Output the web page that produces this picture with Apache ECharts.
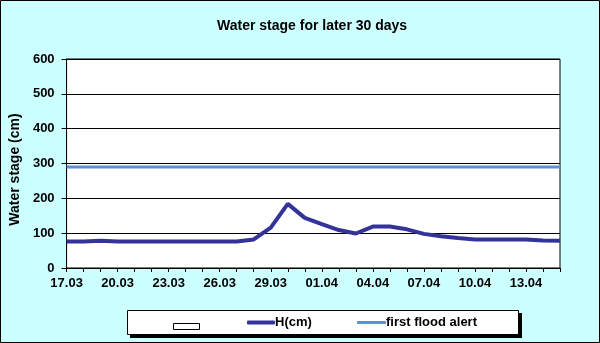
<!DOCTYPE html>
<html>
<head>
<meta charset="utf-8">
<script src="https://cdn.jsdelivr.net/npm/echarts@6/dist/echarts.min.js"></script>
<style>
html,body{margin:0;padding:0;background:#ccffff;}
#c{width:600px;height:343px;}
</style>
</head>
<body>
<div id="c"></div>
<script>
var titleText = 'Water stage for later 30 days';
var yAxisName = 'Water stage (cm)';
var dates = ['17.03','18.03','19.03','20.03','21.03','22.03','23.03','24.03','25.03','26.03',
             '27.03','28.03','29.03','30.03','31.03','01.04','02.04','03.04','04.04','05.04',
             '06.04','07.04','08.04','09.04','10.04','11.04','12.04','13.04','14.04','15.04'];
var hValues = [76,76,78,76,76,76,76,76,76,76,
               76,82,116,184,144,126,109,99,119,119,
               111,98,91,86,82,82,82,82,79,78];
var alertValues = [290,290,290,290,290,290,290,290,290,290,
                   290,290,290,290,290,290,290,290,290,290,
                   290,290,290,290,290,290,290,290,290,290];
var seriesNames = [' ', 'H(cm)', 'first flood alert'];

var FONT = 'Liberation Sans, Arial, sans-serif';
var chart = echarts.init(document.getElementById('c'), null, {renderer:'canvas'});
chart.setOption({
  backgroundColor: '#ccffff',
  animation: false,
  title: {
    text: titleText, left: 212, top: 14,
    textStyle: {fontFamily: FONT, fontSize: 14, fontWeight: 'bold', color: '#000'}
  },
  grid: {left: 64, right: 40, top: 59, bottom: 75, show: true, backgroundColor: '#fff', borderColor: '#000', borderWidth: 1, containLabel: false},
  xAxis: {
    type: 'category', data: dates, boundaryGap: false,
    axisLine: {lineStyle: {color: '#000', width: 1}},
    axisTick: {show: true, interval: 0, length: 4, lineStyle: {color: '#000'}},
    axisLabel: {interval: 2, margin: 9, fontFamily: FONT, fontSize: 13, fontWeight: 'bold', color: '#000'},
    splitLine: {show: false}
  },
  yAxis: {
    type: 'value', min: 0, max: 600, interval: 100,
    name: yAxisName, nameLocation: 'middle', nameRotate: 90, nameGap: 40,
    nameTextStyle: {fontFamily: FONT, fontSize: 14, fontWeight: 'bold', color: '#000', padding: [0,12,0,0]},
    axisLine: {show: true, lineStyle: {color: '#000', width: 1}},
    axisTick: {show: true, length: 5, lineStyle: {color: '#000'}},
    axisLabel: {margin: 12, fontFamily: FONT, fontSize: 13, fontWeight: 'bold', color: '#000'},
    splitLine: {show: true, lineStyle: {color: '#000', width: 1}}
  },
  legend: [
    {data: [seriesNames[0]], left: 173, top: 320, itemWidth: 26, itemHeight: 6, icon: 'rect', padding: 0,
     itemStyle: {color: '#fff', borderColor: '#000', borderWidth: 1},
     textStyle: {fontFamily: FONT, fontSize: 13, fontWeight: 'bold'}},
    {data: [seriesNames[1]], left: 247, top: 316, itemWidth: 28, itemHeight: 4, icon: 'roundRect', padding: 0,
     itemStyle: {color: '#333399'},
     textStyle: {fontFamily: FONT, fontSize: 13, fontWeight: 'bold', color: '#000', padding: [0,0,0,-5]}},
    {data: [seriesNames[2]], left: 357, top: 316, itemWidth: 29, itemHeight: 3, icon: 'roundRect', padding: 0,
     itemStyle: {color: '#5b8fd6'},
     textStyle: {fontFamily: FONT, fontSize: 13, fontWeight: 'bold', color: '#000', padding: [0,0,0,-5]}}
  ],
  graphic: [
    {type: 'rect', z: -1, shape: {x: 130, y: 313, width: 392, height: 25}, style: {fill: '#000'}, silent: true},
    {type: 'rect', z: -1, shape: {x: 127.5, y: 310.5, width: 391, height: 24}, style: {fill: '#fff', stroke: '#000', lineWidth: 1}, silent: true},
    {type: 'rect', z: 100, shape: {x: 0.5, y: 0.5, width: 599, height: 342}, style: {fill: 'none', stroke: '#000', lineWidth: 1}, silent: true}
  ],
  series: [
    {name: seriesNames[0], type: 'bar', data: [], itemStyle: {color: '#fff', borderColor: '#000', borderWidth: 1}},
    {name: seriesNames[1], type: 'line', data: hValues, showSymbol: false, symbol: 'none', smooth: false,
     lineStyle: {color: '#333399', width: 4}, itemStyle: {color: '#333399'}, z: 3},
    {name: seriesNames[2], type: 'line', data: alertValues, showSymbol: false, symbol: 'none',
     lineStyle: {color: '#5b8fd6', width: 3}, itemStyle: {color: '#5b8fd6'}, z: 2}
  ]
});
</script>
</body>
</html>
